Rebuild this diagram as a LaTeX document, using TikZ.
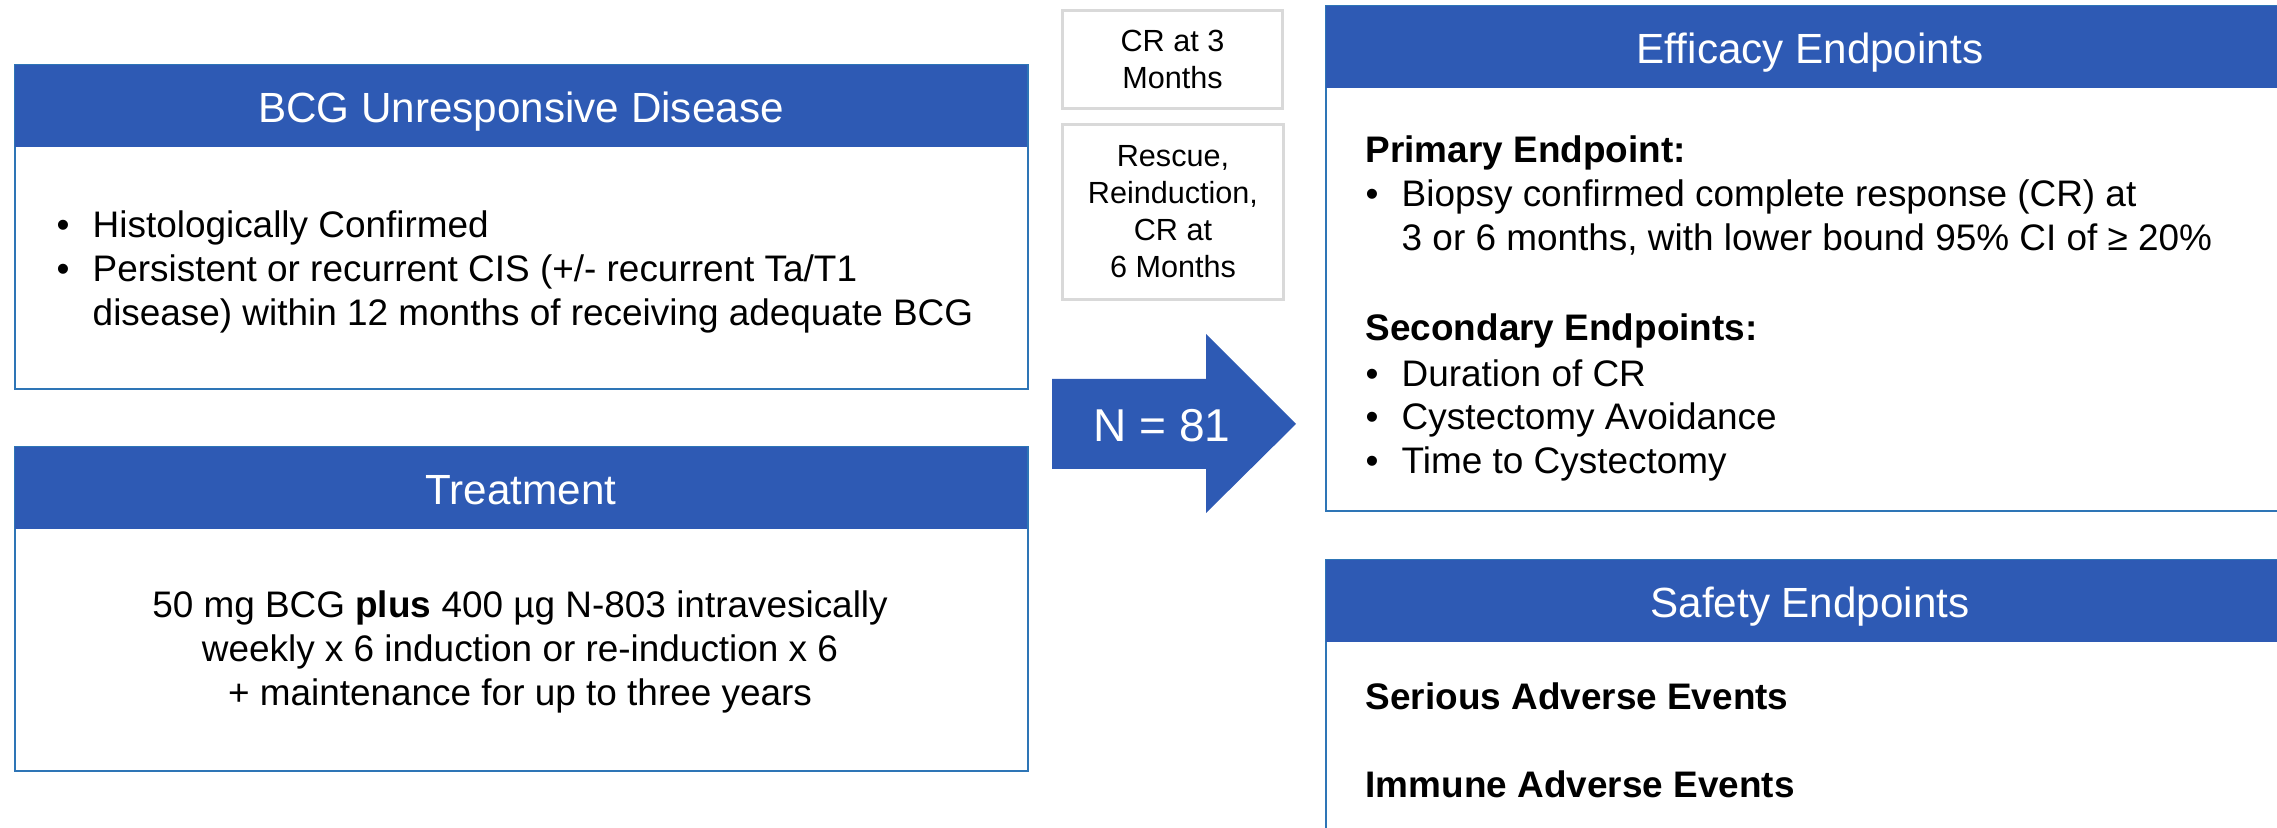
\documentclass[tikz,border=0pt]{standalone}
\usepackage{fontspec}
\setmainfont{Liberation Sans}
\usepackage{xcolor}
\usepackage{tikz}
\usetikzlibrary{positioning}
\definecolor{headblue}{RGB}{46,90,180}
\definecolor{frameblue}{RGB}{46,117,182}
\definecolor{boxgray}{RGB}{217,217,217}
\newcommand{\bul}{\makebox[3.6mm][l]{\textbullet}}
\newcommand{\ind}{\hspace*{3.6mm}}

\begin{document}
\begin{tikzpicture}[x=0.01cm, y=-0.01cm]
    \tikzstyle{panel} = [rectangle, draw=frameblue, line width=0.6pt, anchor=north west, inner sep=0pt]
    \tikzstyle{panelhead} = [rectangle, fill=headblue, text=white, anchor=north west, inner sep=0pt, minimum height=0.82cm, text height=0.33cm, text depth=0pt, font=\fontsize{12}{14}\selectfont]
    \tikzstyle{stagebox} = [rectangle, draw=boxgray, line width=0.8pt, anchor=north west, inner sep=0pt, align=center, font=\fontsize{8.7}{10.5}\selectfont]
    \tikzstyle{txtline} = [anchor=base west, inner sep=0pt, font=\fontsize{10.5}{12.6}\selectfont]
    \useasboundingbox (0,0) rectangle (2277,828);

    % Left panels
    \node [panel, minimum width=10.12cm, minimum height=3.24cm] (bcg) at (14,64) {};
    \node [panelhead, minimum width=10.12cm] (bcghead) at (14,64) {BCG Unresponsive Disease};
    \node [panel, minimum width=10.12cm, minimum height=3.24cm] (treat) at (14,446) {};
    \node [panelhead, minimum width=10.12cm] (treathead) at (14,446) {Treatment};

    \node [txtline] (hist) at (56,238) {\bul Histologically Confirmed};
    \node [txtline, below=4.35mm of hist.base west, anchor=base west] (pers) {\bul Persistent or recurrent CIS (+/- recurrent Ta/T1};
    \node [txtline, below=4.35mm of pers.base west, anchor=base west] (within) {\ind disease) within 12 months of receiving adequate BCG};

    \node [txtline, anchor=base] (dose) at (520,618) {50 mg BCG \textbf{plus} 400 µg N-803 intravesically};
    \node [txtline, below=4.35mm of dose.base, anchor=base] (weekly) {weekly x 6 induction or re-induction x 6};
    \node [txtline, below=4.35mm of weekly.base, anchor=base] (maint) {+ maintenance for up to three years};

    % Assessment boxes and arrow
    \node [stagebox, minimum width=2.20cm, minimum height=0.98cm] (cr3) at (1061,9) {CR at 3\\Months};
    \node [stagebox, minimum width=2.21cm, minimum height=1.75cm] (rescue) at (1061,123) {Rescue,\\Reinduction,\\CR at\\6 Months};
    \fill [headblue] (1052,379) -- (1206,379) -- (1206,334) -- (1296,424) -- (1206,513) -- (1206,469) -- (1052,469) -- cycle;
    \node [anchor=base, inner sep=0pt, text=white, font=\fontsize{13.1}{15}\selectfont] (enroll) at (1162,442) {N = 81};

    % Right panels
    \node [panel, minimum width=9.68cm, minimum height=5.05cm] (eff) at (1325,5) {};
    \node [panelhead, minimum width=9.68cm] (effhead) at (1325,5) {Efficacy Endpoints};
    \node [panel, minimum width=9.68cm, minimum height=3.0cm] (safe) at (1325,559) {};
    \node [panelhead, minimum width=9.68cm] (safehead) at (1325,559) {Safety Endpoints};

    \node [txtline] (prim) at (1365,163) {\textbf{Primary Endpoint:}};
    \node [txtline, below=4.35mm of prim.base west, anchor=base west] (biopsy) {\bul Biopsy confirmed complete response (CR) at};
    \node [txtline, below=4.35mm of biopsy.base west, anchor=base west] (bound) {\ind 3 or 6 months, with lower bound 95\% CI of ≥ 20\%};
    \node [txtline] (sec) at (1365,341) {\textbf{Secondary Endpoints:}};
    \node [txtline, below=4.5mm of sec.base west, anchor=base west] (dur) {\bul Duration of CR};
    \node [txtline, below=4.3mm of dur.base west, anchor=base west] (avoid) {\bul Cystectomy Avoidance};
    \node [txtline, below=4.4mm of avoid.base west, anchor=base west] (time) {\bul Time to Cystectomy};

    \node [txtline] (serious) at (1365,710) {\textbf{Serious Adverse Events}};
    \node [txtline] (immune) at (1365,798) {\textbf{Immune Adverse Events}};
\end{tikzpicture}
\end{document}
